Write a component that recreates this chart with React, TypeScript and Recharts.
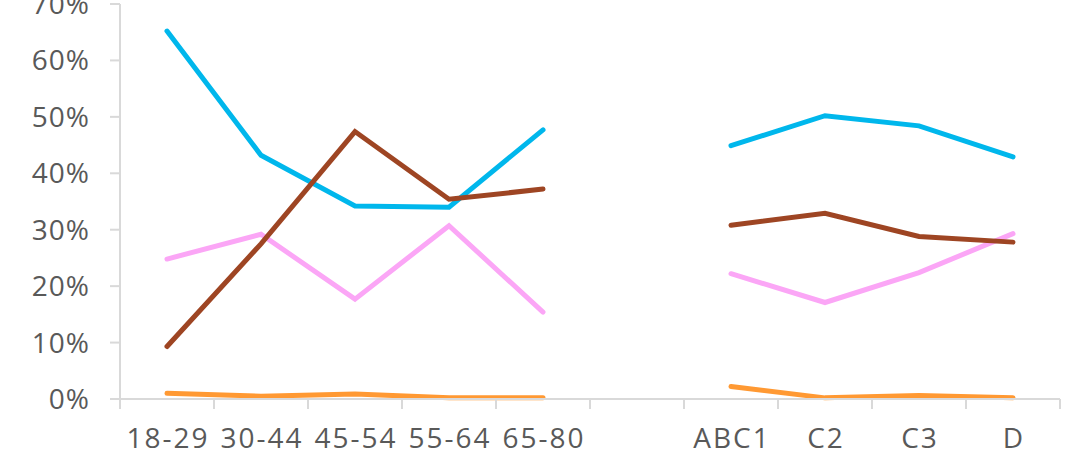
import { LineChart, Line, XAxis, YAxis } from "recharts";

const categories = ["18-29", "30-44", "45-54", "55-64", "65-80", "", "ABC1", "C2", "C3", "D"];
const blueValues = [0.652, 0.432, 0.342, 0.34, 0.477, null, 0.449, 0.502, 0.484, 0.429];
const brownValues = [0.093, 0.275, 0.474, 0.354, 0.372, null, 0.308, 0.329, 0.288, 0.278];
const pinkValues = [0.248, 0.292, 0.177, 0.307, 0.154, null, 0.222, 0.171, 0.224, 0.293];
const orangeValues = [0.01, 0.005, 0.009, 0.002, 0.002, null, 0.022, 0.002, 0.006, 0.002];
const yTicks = [0, 0.1, 0.2, 0.3, 0.4, 0.5, 0.6, 0.7];

const data = categories.map((cat, i) => ({
  cat,
  blue: blueValues[i],
  brown: brownValues[i],
  pink: pinkValues[i],
  orange: orangeValues[i],
}));

const W = 1081;
const H = 456;
const M = { top: 4, right: 21, bottom: 0, left: 0 };
const Y_W = 120;
const X_H = 57;
const axisGray = "#d9d9d9";
const textGray = "#595959";
const font = "'Open Sans', sans-serif";

const bandW = (W - M.left - M.right - Y_W) / categories.length;

function XTick(props: any) {
  const { x, y, payload, index } = props;
  const top = y - 19;
  return (
    <g>
      <line x1={x - bandW / 2} x2={x - bandW / 2} y1={top - 10} y2={top} stroke={axisGray} strokeWidth={2} />
      {index === categories.length - 1 && (
        <line x1={x + bandW / 2} x2={x + bandW / 2} y1={top - 10} y2={top} stroke={axisGray} strokeWidth={2} />
      )}
      <text
        x={x + 1}
        y={y}
        dy="0.71em"
        textAnchor="middle"
        fill={textGray}
        fontSize={28}
        letterSpacing={2}
        fontFamily={font}
      >
        {payload.value}
      </text>
    </g>
  );
}

export default function App() {
  return (
    <div style={{ position: "absolute", left: 0, top: 0, background: "#fff" }}>
      <LineChart width={W} height={H} data={data} margin={M}>
        <XAxis
          dataKey="cat"
          scale="band"
          interval={0}
          height={X_H}
          tickLine={false}
          tickSize={10}
          tickMargin={19}
          tick={<XTick />}
          axisLine={{ stroke: axisGray, strokeWidth: 2 }}
        />
        <YAxis
          width={Y_W}
          domain={[0, 0.7]}
          ticks={yTicks}
          interval={0}
          tickSize={10}
          tickMargin={20}
          tickFormatter={(v: number) => `${Math.round(v * 100)}%`}
          tick={{ fill: textGray, fontSize: 28, fontFamily: font, letterSpacing: 1 }}
          tickLine={{ stroke: axisGray, strokeWidth: 2 }}
          axisLine={{ stroke: axisGray, strokeWidth: 2 }}
        />
        <Line dataKey="orange" stroke="#ff9933" strokeWidth={5} dot={false} isAnimationActive={false} strokeLinecap="round" />
        <Line dataKey="pink" stroke="#fba6f6" strokeWidth={5} dot={false} isAnimationActive={false} strokeLinecap="round" />
        <Line dataKey="blue" stroke="#00b7ec" strokeWidth={5} dot={false} isAnimationActive={false} strokeLinecap="round" />
        <Line dataKey="brown" stroke="#9e4523" strokeWidth={5} dot={false} isAnimationActive={false} strokeLinecap="round" />
      </LineChart>
    </div>
  );
}
